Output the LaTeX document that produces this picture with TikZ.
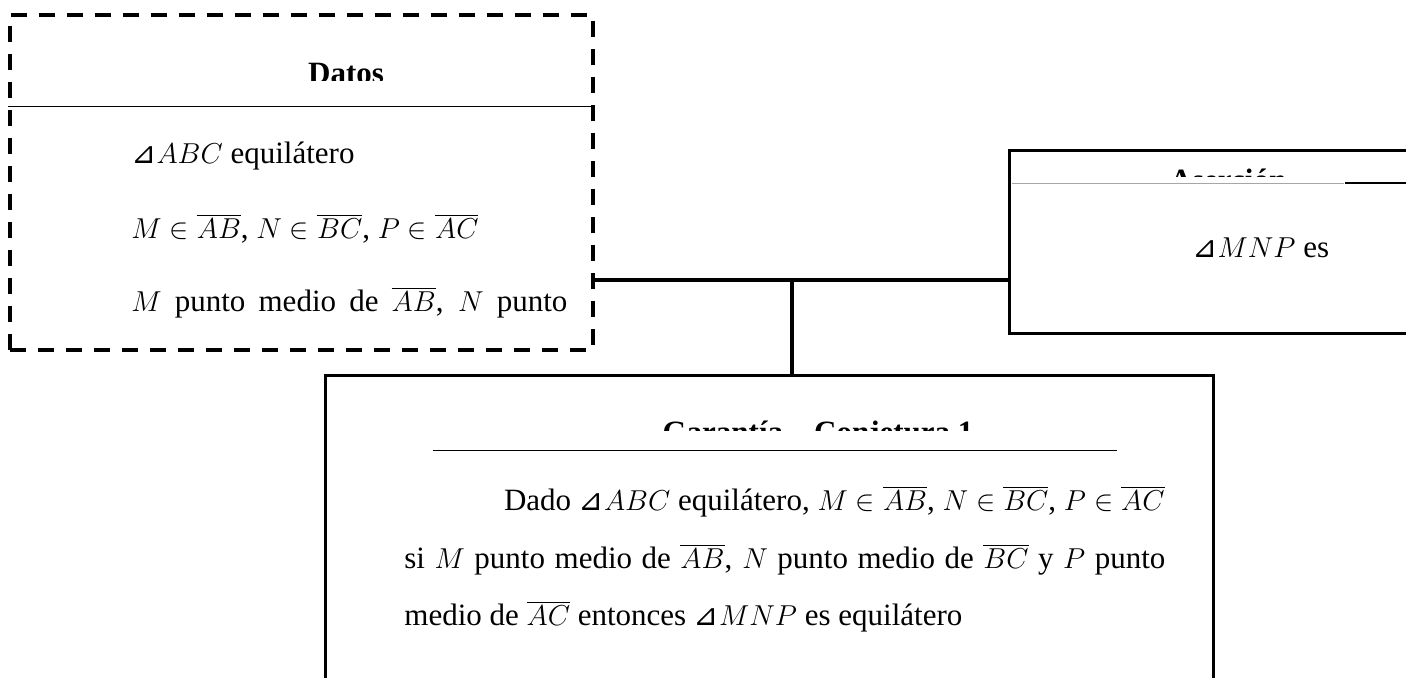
\documentclass[tikz,border=0pt]{standalone}
\usepackage{fontspec}
\setmainfont{Liberation Serif}
\newfontfamily\trifont{DejaVu Sans}
\usetikzlibrary{positioning}
\newcommand{\tri}{\mbox{\trifont\fontsize{15}{17}\selectfont ⊿}}

\begin{document}
\begin{tikzpicture}[x=0.5pt, y=-0.5pt,
  caja/.style={draw, line width=1.5pt, inner sep=0pt},
  datosbox/.style={draw, line width=1.6pt, dash pattern=on 8pt off 6pt, inner sep=0pt},
  titulo/.style={font=\fontsize{15.5}{18}\selectfont\bfseries, anchor=base, inner sep=0pt},
  texto/.style={font=\fontsize{15.5}{18}\selectfont, anchor=base west, inner sep=0pt},
  sep/.style={line width=0.5pt},
  enlace/.style={line width=2pt},
]
  \clip (0,0) rectangle (1406,677);
  \useasboundingbox (0,0) rectangle (1406,677);

  % cajas
  \node[datosbox, minimum width=291.5pt, minimum height=167.5pt] (datos) at (301.5,182.5) {};
  \node[caja, minimum width=245.5pt, minimum height=91.5pt] (asercion) at (1254.5,241.5) {};
  \node[caja, minimum width=444pt, minimum height=172.5pt] (garantia) at (769,547.5) {};

  % titulos (cortados)
  \begin{scope}
    \clip (10,15) rectangle (593,80);
    \node[titulo] (tdatos) at (346,83.5) {Datos};
  \end{scope}
  \begin{scope}
    \clip (1009,150) rectangle (1406,176);
    \node[titulo] (tasercion) at (1228,190.5) {Aserción};
  \end{scope}
  \begin{scope}
    \clip (325,375) rectangle (1213,430);
    \node[titulo] (tgarantia) at (818,442.5) {Garantía – Conjetura 1};
  \end{scope}

  % lineas de encabezado
  \draw[sep] (datos.west |- 0,106) -- (datos.east |- 0,106);
  \draw[sep, gray!70] (1012,183) -- (1344,183);
  \draw[line width=1pt] (1345,183) -- (asercion.east |- 0,183);
  \draw[sep] (433,450) -- (1117,450);

  % datos
  \node[texto] (d1) at (131,163) {\tri$ABC$ equilátero};
  \node[texto] (d2) at (131,238) {$M\in\overline{AB}$, $N\in\overline{BC}$, $P\in\overline{AC}$};
  \node[texto] (d3) at (131,311) {\makebox[218pt][s]{$M$ punto medio de $\overline{AB}$, $N$ punto}};

  % asercion
  \node[texto] (a1) at (1192,257) {\tri$MNP$ es};

  % garantia
  \node[texto, anchor=base east] (g1) at (1165,510) {Dado \tri$ABC$ equilátero, $M\in\overline{AB}$, $N\in\overline{BC}$, $P\in\overline{AC}$};
  \node[texto] (g2) at (404,568) {\makebox[380.5pt][s]{si $M$ punto medio de $\overline{AB}$, $N$ punto medio de $\overline{BC}$ y $P$ punto}};
  \node[texto] (g3) at (404,625) {medio de $\overline{AC}$ entonces \tri$MNP$ es equilátero};

  % conexiones
  \coordinate (j) at (792,280);
  \draw[enlace] (j -| datos.east) -- (j -| asercion.west);
  \draw[enlace] (j) -- (j |- garantia.north);
\end{tikzpicture}
\end{document}
